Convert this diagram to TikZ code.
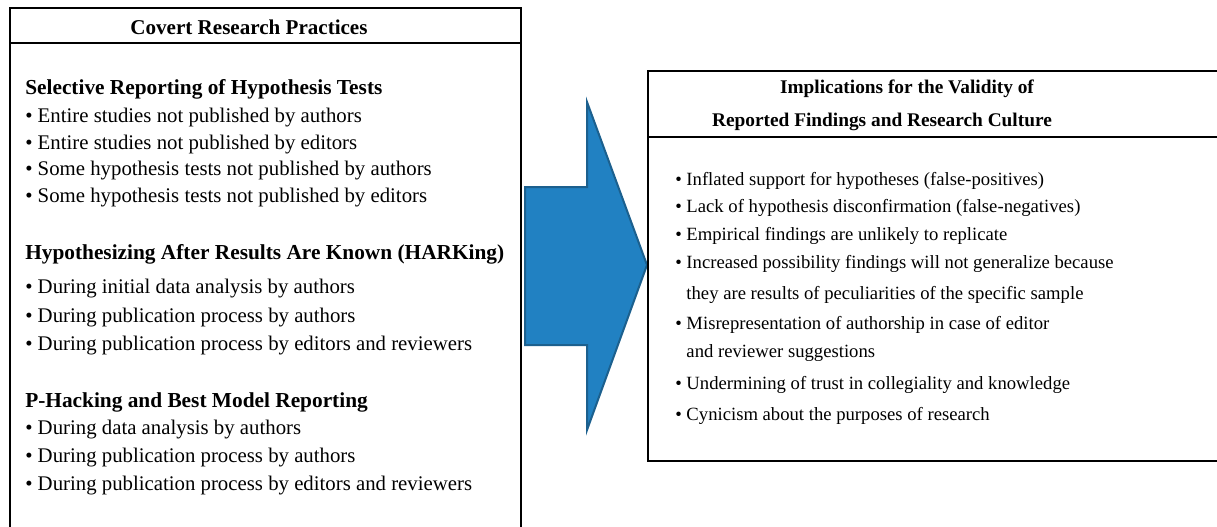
\documentclass[tikz,border=0pt]{standalone}
\usepackage{fontspec}
\setmainfont{Liberation Serif}
\definecolor{arrowblue}{RGB}{33,129,194}
\definecolor{arrowedge}{RGB}{28,96,142}
\begin{document}
\begin{tikzpicture}[x=0.75pt, y=-0.75pt,
    boxline/.style={line width=1.5pt},
    lefttxt/.style={anchor=mid west, inner sep=0pt, font=\fontsize{15.6}{19}\selectfont},
    lefthead/.style={anchor=mid west, inner sep=0pt, font=\fontsize{16}{19}\selectfont\bfseries},
    righttxt/.style={anchor=mid west, inner sep=0pt, font=\fontsize{14}{17}\selectfont},
    righthead/.style={inner sep=0pt, font=\fontsize{14.5}{17}\selectfont\bfseries}]
    % Frame: both boxes run off the page
    \clip (0,0) rectangle (1217,526);

    % Left box
    \draw[boxline] (10,560) -- (10,7.5) -- (521,7.5) -- (521,560);
    \draw[boxline] (10,43) -- (521,43);
    \node[inner sep=0pt, font=\fontsize{15.8}{19}\selectfont\bfseries] (covert) at (249,27) {Covert Research Practices};

    % Selective reporting
    \node[lefthead] (selhead) at (25,91) {Selective Reporting of Hypothesis Tests};
    \foreach \y/\txt [count=\i] in {119/{Entire studies not published by authors},
        146/{Entire studies not published by editors},
        172/{Some hypothesis tests not published by authors},
        199/{Some hypothesis tests not published by editors}} {
        \node[lefttxt] (sel\i) at (25,\y) {\textbullet{} \txt};
    }

    % HARKing
    \node[lefthead] (harkhead) at (25,256) {Hypothesizing After Results Are Known (HARKing)};
    \foreach \y/\txt [count=\i] in {290/{During initial data analysis by authors},
        319/{During publication process by authors},
        347/{During publication process by editors and reviewers}} {
        \node[lefttxt] (hark\i) at (25,\y) {\textbullet{} \txt};
    }

    % P-hacking
    \node[lefthead] (phackhead) at (25,404) {P-Hacking and Best Model Reporting};
    \foreach \y/\txt [count=\i] in {431/{During data analysis by authors},
        459/{During publication process by authors},
        487/{During publication process by editors and reviewers}} {
        \node[lefttxt] (phack\i) at (25,\y) {\textbullet{} \txt};
    }

    % Big arrow
    \filldraw[fill=arrowblue, draw=arrowedge, line width=1.5pt, line join=miter]
        (525,187) -- (587,187) -- (587,102) -- (647,265) -- (587,430) -- (587,345) -- (525,345) -- cycle;

    % Right box
    \draw[boxline] (1230,71) -- (648,71) -- (648,461) -- (1230,461);
    \draw[boxline] (648,137) -- (1230,137);
    \node[righthead] (imphead1) at (907,89) {Implications for the Validity of};
    \node[righthead] (imphead2) at (882,122) {Reported Findings and Research Culture};

    \foreach \y/\txt [count=\i] in {182/{\textbullet{} Inflated support for hypotheses (false-positives)},
        209/{\textbullet{} Lack of hypothesis disconfirmation (false-negatives)},
        237/{\textbullet{} Empirical findings are unlikely to replicate},
        265/{\textbullet{} Increased possibility findings will not generalize because},
        296/{\phantom{\textbullet} they are results of peculiarities of the specific sample},
        326/{\textbullet{} Misrepresentation of authorship in case of editor},
        354/{\phantom{\textbullet} and reviewer suggestions},
        386/{\textbullet{} Undermining of trust in collegiality and knowledge},
        417/{\textbullet{} Cynicism about the purposes of research}} {
        \node[righttxt] (imp\i) at (675,\y) {\txt};
    }
\end{tikzpicture}
\end{document}
